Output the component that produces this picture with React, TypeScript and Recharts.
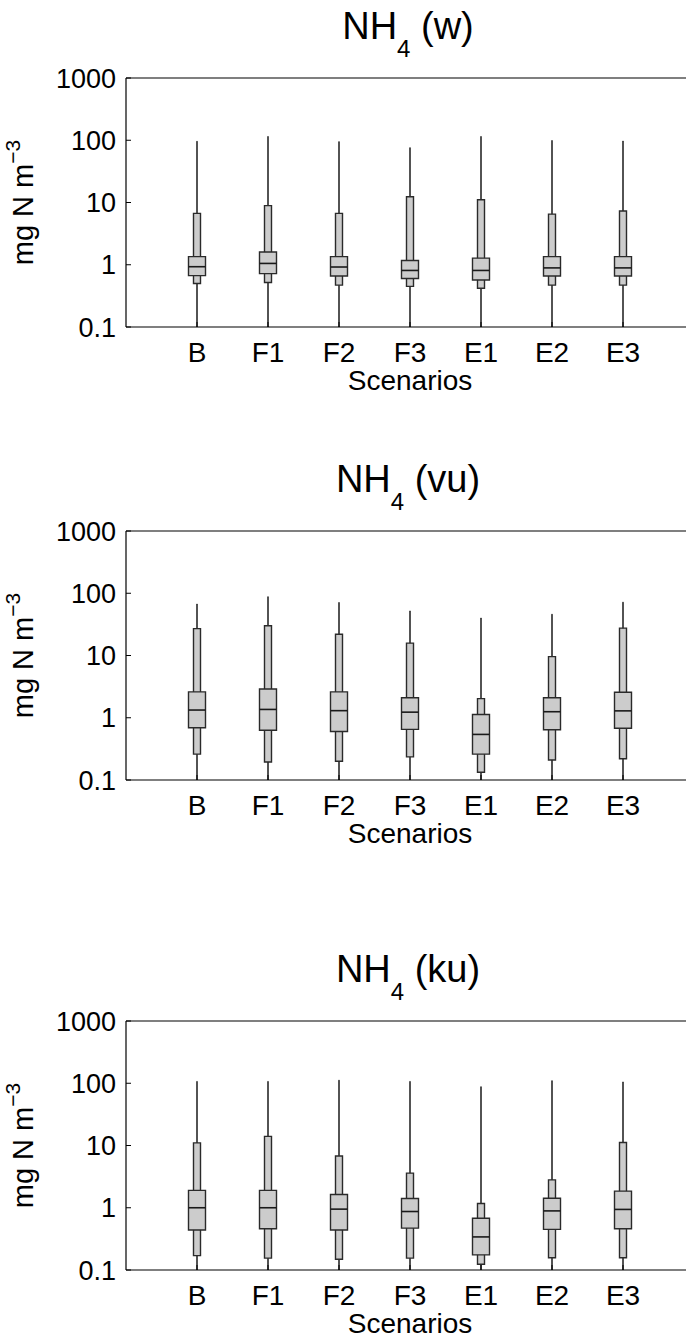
import React from 'react'
import {
  ComposedChart, Bar, Scatter, XAxis, YAxis, ReferenceLine, Customized,
} from 'recharts'

const FONT = '"Liberation Sans", Arial, Helvetica, sans-serif'

const scenarios = ['B', 'F1', 'F2', 'F3', 'E1', 'E2', 'E3']
const yTicks = [0.1, 1, 10, 100, 1000]

// NH4 (w)
const wMin = [0.1, 0.1, 0.1, 0.1, 0.1, 0.1, 0.1]
const wLow = [0.5, 0.52, 0.47, 0.45, 0.42, 0.47, 0.47]
const wQ1 = [0.67, 0.72, 0.66, 0.6, 0.57, 0.66, 0.66]
const wMed = [0.93, 1.05, 0.92, 0.81, 0.81, 0.89, 0.89]
const wQ3 = [1.35, 1.6, 1.35, 1.17, 1.28, 1.35, 1.35]
const wHigh = [6.7, 8.9, 6.7, 12.4, 11.1, 6.5, 7.3]
const wMax = [96, 115, 95, 76, 115, 99, 97]

// NH4 (vu)
const vuMin = [0.1, 0.1, 0.1, 0.1, 0.1, 0.1, 0.1]
const vuLow = [0.26, 0.195, 0.2, 0.235, 0.133, 0.21, 0.22]
const vuQ1 = [0.69, 0.63, 0.6, 0.65, 0.26, 0.64, 0.68]
const vuMed = [1.33, 1.36, 1.3, 1.23, 0.54, 1.25, 1.29]
const vuQ3 = [2.6, 2.9, 2.6, 2.1, 1.13, 2.1, 2.57]
const vuHigh = [27, 30, 22, 15.8, 2.03, 9.6, 27.5]
const vuMax = [67, 88, 71, 52, 40, 46, 72]

// NH4 (ku)
const kuMin = [0.1, 0.1, 0.1, 0.1, 0.1, 0.1, 0.1]
const kuLow = [0.17, 0.155, 0.149, 0.155, 0.124, 0.157, 0.157]
const kuQ1 = [0.44, 0.46, 0.44, 0.47, 0.175, 0.45, 0.46]
const kuMed = [1.0, 1.0, 0.95, 0.87, 0.34, 0.89, 0.94]
const kuQ3 = [1.9, 1.9, 1.63, 1.41, 0.68, 1.42, 1.85]
const kuHigh = [11, 14, 6.8, 3.6, 1.17, 2.8, 11.2]
const kuMax = [107, 107, 112, 107, 88, 110, 105]

function buildRows(min: number[], low: number[], q1: number[], med: number[], q3: number[], high: number[], max: number[]) {
  return scenarios.map((name, i) => ({
    name, min: min[i], low: low[i], q1: q1[i], med: med[i], q3: q3[i], high: high[i], max: max[i],
  }))
}

const panels = [
  { tag: 'w', top: 0, rows: buildRows(wMin, wLow, wQ1, wMed, wQ3, wHigh, wMax) },
  { tag: 'vu', top: 453, rows: buildRows(vuMin, vuLow, vuQ1, vuMed, vuQ3, vuHigh, vuMax) },
  { tag: 'ku', top: 943, rows: buildRows(kuMin, kuLow, kuQ1, kuMed, kuQ3, kuHigh, kuMax) },
]

const CHART_W = 694
const CHART_H = 430
const PLOT_TOP = 78
const PLOT_H = 249
const PLOT_LEFT = 126
const PAD = { left: 35.5, right: 35.5 }

function YTick(props: any) {
  const { x, y, payload } = props
  const v = payload.value
  return (
    <g>
      <line x1={x + 10} x2={x + 15} y1={y} y2={y} stroke="#000" strokeWidth={1} />
      <text x={x} y={y} dy={9.7} textAnchor="end" fontSize={27} fill="#000" fontFamily={FONT}>
        {v < 1 ? String(v) : String(Math.round(v))}
      </text>
    </g>
  )
}

function XTick(props: any) {
  const { x, y, payload } = props
  return (
    <g>
      <line x1={x} x2={x} y1={y - 15} y2={y - 20} stroke="#000" strokeWidth={1} />
      <text x={x} y={y + 20} textAnchor="middle" fontSize={28} fill="#000" fontFamily={FONT}>
        {payload.value}
      </text>
    </g>
  )
}

function MedianMark(props: any) {
  const { cx, cy } = props
  return <line x1={cx - 8.5} x2={cx + 8.5} y1={cy} y2={cy} stroke="#1a1a1a" strokeWidth={1.6} />
}

function Panel({ tag, rows }: { tag: string; rows: any[] }) {
  const midX = PLOT_LEFT + (CHART_W - PLOT_LEFT) / 2
  const midY = PLOT_TOP + PLOT_H / 2
  return (
    <ComposedChart
      width={CHART_W}
      height={CHART_H}
      data={rows}
      margin={{ top: PLOT_TOP, right: 0, bottom: 0, left: 0 }}
    >
      <XAxis
        xAxisId="main"
        dataKey="name"
        padding={PAD}
        height={CHART_H - PLOT_TOP - PLOT_H}
        axisLine={{ stroke: '#000', strokeWidth: 1.2 }}
        tickLine={false}
        tickSize={13}
        tickMargin={2}
        interval={0}
        tick={<XTick />}
      />
      <XAxis xAxisId="narrow" dataKey="name" padding={PAD} hide />
      <XAxis xAxisId="whisk" dataKey="name" padding={PAD} hide />
      <YAxis
        scale="log"
        domain={[0.1, 1000]}
        ticks={yTicks}
        allowDataOverflow
        width={PLOT_LEFT}
        axisLine={{ stroke: '#000', strokeWidth: 1.2 }}
        tickLine={false}
        tickSize={8}
        tickMargin={2}
        interval={0}
        tick={<YTick />}
      />
      <ReferenceLine xAxisId="main" y={1000} stroke="#000" strokeWidth={1.2} />
      <Bar
        xAxisId="whisk"
        dataKey={(d: any) => [d.min, d.max]}
        barSize={1}
        fill="#1a1a1a"
        stroke="#1a1a1a"
        strokeWidth={0.5}
        isAnimationActive={false}
      />
      <Bar
        xAxisId="narrow"
        dataKey={(d: any) => [d.low, d.high]}
        barSize={7}
        fill="#cccccc"
        stroke="#2a2a2a"
        strokeWidth={1.4}
        isAnimationActive={false}
      />
      <Bar
        xAxisId="main"
        dataKey={(d: any) => [d.q1, d.q3]}
        barSize={17}
        fill="#cccccc"
        stroke="#2a2a2a"
        strokeWidth={1.4}
        isAnimationActive={false}
      />
      <Scatter xAxisId="main" dataKey="med" shape={<MedianMark />} isAnimationActive={false} />
      <Customized
        component={() => (
          <g fontFamily={FONT} fill="#000">
            <text x={midX - 2} y={PLOT_TOP - 39} textAnchor="middle" fontSize={38}>
              NH<tspan fontSize={24} dy={18}>4</tspan><tspan dy={-18}>{'\u00a0(' + tag + ')'}</tspan>
            </text>
            <text x={midX} y={PLOT_TOP + PLOT_H + 63} textAnchor="middle" fontSize={28}>
              Scenarios
            </text>
            <text
              x={-midY}
              y={33}
              transform="rotate(-90)"
              textAnchor="middle"
              fontSize={29}
            >
              mg N m<tspan fontSize={21} dy={-13}>−3</tspan>
            </text>
          </g>
        )}
      />
    </ComposedChart>
  )
}

export default function App() {
  return (
    <div
      style={{
        position: 'absolute', left: 0, top: 0, width: 686, height: 1344,
        overflow: 'hidden', background: '#fff',
      }}
    >
      {panels.map((p) => (
        <div key={p.tag} style={{ position: 'absolute', left: 0, top: p.top }}>
          <Panel tag={p.tag} rows={p.rows} />
        </div>
      ))}
    </div>
  )
}
